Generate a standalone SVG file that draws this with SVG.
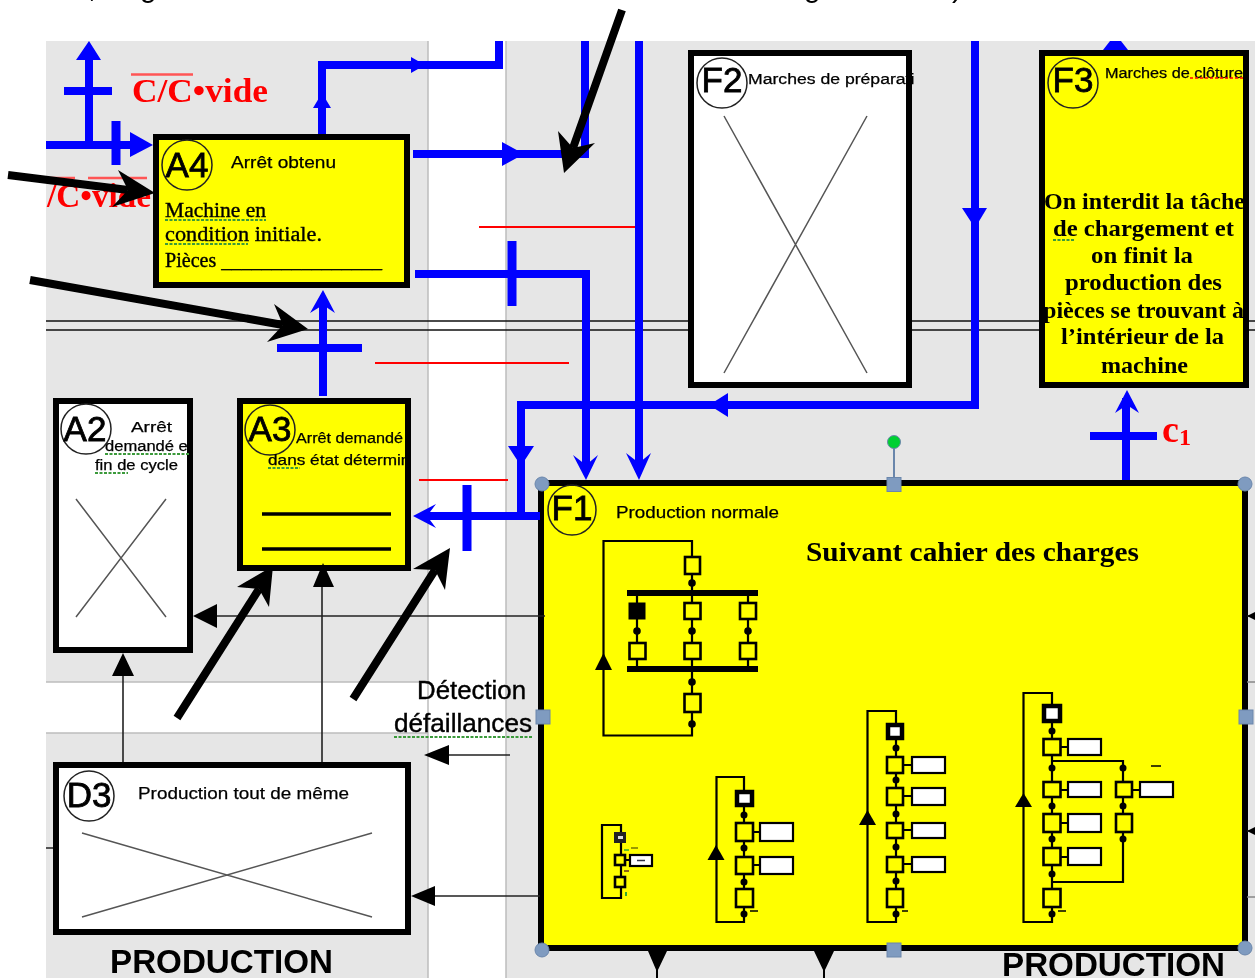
<svg xmlns="http://www.w3.org/2000/svg" width="1255" height="978" viewBox="0 0 1255 978">
<style>
text{paint-order:stroke}
.sans{font-family:"Liberation Sans",Arial,sans-serif;fill:#000}
.serif{font-family:"Liberation Serif","Times New Roman",serif;fill:#000}
.tag{font-family:"Liberation Sans",Arial,sans-serif;font-size:35px;text-anchor:middle;fill:#000;stroke:#000;stroke-width:.8}
.small{font-family:"Liberation Sans",Arial,sans-serif;font-size:14px;fill:#000;stroke:#000;stroke-width:.25}
.box{stroke:#000;stroke-width:6}
.y{fill:#ff0}
.w{fill:#fff}
.ring{fill:none;stroke:#222;stroke-width:1.5}
.cross{stroke:#555;stroke-width:1.5;fill:none}
.blue{stroke:#00f;stroke-width:8;fill:none}
.tick{stroke:#00f;stroke-width:9;fill:none}
.bh{fill:#00f}
.thin{stroke:#222;stroke-width:1.6;fill:none}
.kh{fill:#000}
.fat{stroke:#000;stroke-width:8;fill:none}
.red{stroke:#f00;stroke-width:1.8}
.sq{stroke:#3a9a3a;stroke-width:2;stroke-dasharray:3 1.5;fill:none}
.gl{stroke:#bdbdbd;stroke-width:1.5;fill:none}
.st{fill:#ff0;stroke:#000;stroke-width:2.6}
.ini{fill:#fff;stroke:#000;stroke-width:4.5}
.ac{fill:#fff;stroke:#000;stroke-width:2.2}
.gl2{stroke:#000;stroke-width:2.2;fill:none}
.bar{stroke:#000;stroke-width:6;fill:none}
.h{fill:#7f9bc0;stroke:#6a86ab;stroke-width:1}
</style>
<defs>
<filter id="soft" x="0" y="0" width="100%" height="100%"><feGaussianBlur stdDeviation="0.6"/></filter>
<clipPath id="cA2"><rect x="50" y="395" width="141" height="260"/></clipPath>
<clipPath id="cA3"><rect x="240" y="395" width="166" height="180"/></clipPath>
<clipPath id="cF2"><rect x="690" y="50" width="225" height="340"/></clipPath>
</defs>
<g filter="url(#soft)">
<g id="background">
<rect width="1255" height="978" fill="#fff"/>
<rect x="46" y="41" width="382" height="641" fill="#e6e6e6"/>
<rect x="46" y="733" width="382" height="245" fill="#e6e6e6"/>
<rect x="506" y="41" width="749" height="937" fill="#e6e6e6"/>
<path class="gl" d="M428 41V978M506 41V978M46 682H428M46 733H428"/>
<path d="M46 321H1255M46 330H1255" stroke="#111" stroke-width="1.5" fill="none"/>
<path class="red" d="M479 227H638M375 363H569M419 480H508"/>
<text class="sans" font-size="30" x="88" y="-3">,</text>
<text class="sans" font-size="30" x="140" y="-3">g</text>
<text class="sans" font-size="30" x="804" y="-3">g</text>
<text class="sans" font-size="30" x="952" y="-3">)</text>
<text class="serif" font-size="34" font-weight="bold" x="132" y="102" textLength="136" lengthAdjust="spacingAndGlyphs" style="fill:#f00">C/C•vide</text>
<path d="M131 74.500H193M46 178H75M88 178H147" stroke="#f55" stroke-width="2.500" fill="none"/>
<text class="serif" font-size="34" font-weight="bold" x="47" y="207" textLength="104" lengthAdjust="spacingAndGlyphs" style="fill:#f00">/C•vide</text>
<text class="serif" font-size="38" font-weight="bold" x="1162" y="442" style="fill:#f00">c<tspan font-size="24" dy="3">1</tspan></text>
<text class="sans" font-size="33" font-weight="bold" x="110" y="973" textLength="223" lengthAdjust="spacingAndGlyphs">PRODUCTION</text>
<text class="sans" font-size="33" font-weight="bold" x="1002" y="976" textLength="223" lengthAdjust="spacingAndGlyphs">PRODUCTION</text>
<text class="sans" font-size="25" x="417" y="699" textLength="109" lengthAdjust="spacingAndGlyphs" style="stroke:#000;stroke-width:.4">Détection</text>
<text class="sans" font-size="25" x="394" y="732" textLength="138" lengthAdjust="spacingAndGlyphs" style="stroke:#000;stroke-width:.4">défaillances</text>
<path class="sq" d="M394 737H532"/>
</g>
<g id="node-A4">
<rect class="box y" x="156" y="137" width="251" height="148"/>
<ellipse class="ring" cx="187" cy="165" rx="25" ry="25"/>
<text class="tag" x="187" y="177">A4</text>
<text class="small" font-size="17" style="font-size:17px" x="231" y="168" textLength="105" lengthAdjust="spacingAndGlyphs">Arrêt obtenu</text>
<g style="stroke:#000;stroke-width:.35">
<text class="serif" font-size="20" x="165" y="217" textLength="101" lengthAdjust="spacingAndGlyphs">Machine en</text>
<text class="serif" font-size="20" x="165" y="241" textLength="157" lengthAdjust="spacingAndGlyphs">condition initiale.</text>
<text class="serif" font-size="20" x="165" y="267" textLength="217" lengthAdjust="spacingAndGlyphs">Pièces ________________</text>
</g>
<path class="sq" d="M165 220H266M165 244H248"/>
</g>
<g id="node-A2">
<rect class="box w" x="56" y="401" width="134" height="249"/>
<ellipse class="ring" cx="86" cy="429" rx="25" ry="25"/>
<text class="tag" x="85" y="441">A2</text>
<g clip-path="url(#cA2)">
<path class="sq" d="M105 454H190M95 473H128"/>
<text class="small" x="131" y="432" textLength="41" lengthAdjust="spacingAndGlyphs">Arrêt</text>
<text class="small" x="105" y="451" textLength="92" lengthAdjust="spacingAndGlyphs">demandé en</text>
<text class="small" x="95" y="470" textLength="83" lengthAdjust="spacingAndGlyphs">fin de cycle</text>
</g>
<path class="cross" d="M76 499L166 617M166 499L76 617"/>
</g>
<g id="node-A3">
<rect class="box y" x="240" y="401" width="168" height="167"/>
<ellipse class="ring" cx="270" cy="430" rx="25" ry="25"/>
<text class="tag" x="270" y="441">A3</text>
<g clip-path="url(#cA3)">
<path class="sq" d="M268 468H300"/>
<text class="small" x="296" y="443" textLength="107" lengthAdjust="spacingAndGlyphs">Arrêt demandé</text>
<text class="small" x="268" y="465" textLength="152" lengthAdjust="spacingAndGlyphs">dans état déterminé</text>
</g>
<path d="M262 514H391M262 549H391" stroke="#000" stroke-width="3.500" fill="none"/>
</g>
<g id="node-D3">
<rect class="box w" x="56" y="765" width="352" height="167"/>
<ellipse class="ring" cx="89" cy="796" rx="25" ry="25"/>
<text class="tag" x="89" y="807">D3</text>
<text class="small" style="font-size:17px" x="138" y="799" textLength="211" lengthAdjust="spacingAndGlyphs">Production tout de même</text>
<path class="cross" d="M82 833L372 917M82 917L372 833"/>
</g>
<g id="node-F2">
<rect class="box w" x="691" y="53" width="218" height="332"/>
<ellipse class="ring" cx="722" cy="83" rx="25" ry="25"/>
<text class="tag" x="722" y="92">F2</text>
<text class="small" clip-path="url(#cF2)" x="748" y="84" textLength="186" lengthAdjust="spacingAndGlyphs">Marches de préparation</text>
<path class="cross" d="M724 116L867 373M867 116L724 373"/>
</g>
<g id="node-F3">
<rect class="box y" x="1042" y="53" width="204" height="332"/>
<ellipse class="ring" cx="1073" cy="83" rx="25" ry="25"/>
<text class="tag" x="1073" y="92">F3</text>
<text class="small" x="1105" y="78" textLength="138" lengthAdjust="spacingAndGlyphs">Marches de clôture</text>
<path d="M1190 78H1243" stroke="#f00" stroke-width="1.500" stroke-dasharray="3 2"/>
<g font-size="23" font-weight="bold">
<text class="serif" x="1044" y="209" textLength="201" lengthAdjust="spacingAndGlyphs">On interdit la tâche</text>
<text class="serif" x="1053" y="236" textLength="181" lengthAdjust="spacingAndGlyphs">de chargement et</text>
<text class="serif" x="1091" y="263" textLength="102" lengthAdjust="spacingAndGlyphs">on finit la</text>
<text class="serif" x="1065" y="290" textLength="157" lengthAdjust="spacingAndGlyphs">production des</text>
<text class="serif" x="1043" y="318" textLength="201" lengthAdjust="spacingAndGlyphs">pièces se trouvant à</text>
<text class="serif" x="1061" y="344" textLength="163" lengthAdjust="spacingAndGlyphs">l’intérieur de la</text>
<text class="serif" x="1101" y="373" textLength="87" lengthAdjust="spacingAndGlyphs">machine</text>
</g>
<path class="sq" d="M1053 240H1074"/>
</g>
<g id="node-F1">
<rect class="box y" x="541" y="483" width="704" height="465"/>
<ellipse class="ring" cx="572" cy="510" rx="24" ry="25"/>
<text class="tag" x="572" y="520">F1</text>
<text class="small" style="font-size:17px" x="616" y="518" textLength="163" lengthAdjust="spacingAndGlyphs">Production normale</text>
<text class="serif" font-size="27" font-weight="bold" x="806" y="561" textLength="333" lengthAdjust="spacingAndGlyphs">Suivant cahier des charges</text>
<g id="grafcet-1">
<path class="gl2" d="M692 541H603.500V735.500H692ZM692 541V735M637 593V668M748 593V668"/>
<path class="kh" d="M603.500 653L612 670H595Z"/>
<rect class="st" x="685" y="557" width="15" height="17" stroke-width="3.500"/>
<path class="bar" d="M627 593H758M627 669H758"/>
<rect x="629" y="603" width="16" height="16" fill="#000" stroke="#000"/>
<rect class="st" x="684.500" y="603" width="16" height="16"/><rect class="st" x="740" y="603" width="16" height="16"/>
<rect class="st" x="629.500" y="643" width="16" height="16"/><rect class="st" x="684.500" y="643" width="16" height="16"/><rect class="st" x="740" y="643" width="16" height="16"/>
<rect class="st" x="684.500" y="694" width="16" height="18"/>
<g fill="#000"><circle cx="692" cy="583" r="3.800"/><circle cx="637" cy="631" r="3.800"/><circle cx="692" cy="631" r="3.800"/><circle cx="748" cy="631" r="3.800"/><circle cx="692" cy="682" r="3.800"/><circle cx="692" cy="724" r="3.800"/></g>
</g>
<g id="grafcet-2">
<path class="gl2" d="M621 825H602V898H621ZM621 825V898M626 860H630" stroke-width="2"/>
<rect x="614" y="832" width="12" height="11" fill="#222"/><rect x="618" y="836" width="5" height="3" fill="#ddd"/>
<rect class="st" x="615" y="855" width="10" height="10"/><rect class="st" x="615" y="877" width="10" height="10"/>
<rect class="ac" x="630" y="855" width="22" height="11"/>
<path d="M637 860.500H645" stroke="#334" stroke-width="1.500"/>
<path d="M624 850H629" stroke="#3a3" stroke-width="1.500"/><path d="M631 848H638" stroke="#990" stroke-width="2"/><path d="M624 871H629" stroke="#632" stroke-width="1.500"/><path d="M626 892V896" stroke="#3a3" stroke-width="2"/>
</g>
<g id="grafcet-3">
<path class="gl2" d="M744 777H716.500V922H744ZM744 777V922M753 832H760M753 865H760" stroke-width="2.400"/>
<path class="kh" d="M716 845L724.500 860H707.500Z"/>
<rect class="ini" x="737" y="792" width="15" height="13"/>
<rect class="st" x="736" y="823" width="17" height="18"/><rect class="st" x="736" y="857" width="17" height="17"/><rect class="st" x="736" y="889" width="17" height="18"/>
<rect class="ac" x="760" y="823" width="33" height="18"/><rect class="ac" x="760" y="857" width="33" height="17"/>
<g fill="#000"><circle cx="744" cy="815" r="3.500"/><circle cx="744" cy="848" r="3.500"/><circle cx="744" cy="882" r="3.500"/><circle cx="744" cy="914" r="3.500"/></g>
<path d="M750 911H758" stroke="#000" stroke-width="1.500"/>
</g>
<g id="grafcet-4">
<path class="gl2" d="M896 711H867.500V922H896ZM896 711V922M903 765H912M903 796H912M903 830H912M903 864H912"/>
<path class="kh" d="M867.500 810L876 825H859Z"/>
<rect class="ini" x="888" y="725" width="14" height="13"/>
<rect class="st" x="887" y="757" width="16" height="16"/><rect class="st" x="887" y="788" width="16" height="17"/><rect class="st" x="887" y="823" width="16" height="15"/><rect class="st" x="887" y="857" width="16" height="15"/><rect class="st" x="887" y="889" width="16" height="18"/>
<rect class="ac" x="912" y="757" width="33" height="16"/><rect class="ac" x="912" y="788" width="33" height="17"/><rect class="ac" x="912" y="823" width="33" height="15"/><rect class="ac" x="912" y="857" width="33" height="15"/>
<g fill="#000"><circle cx="896" cy="748" r="3.500"/><circle cx="896" cy="780" r="3.500"/><circle cx="896" cy="814" r="3.500"/><circle cx="896" cy="847" r="3.500"/><circle cx="896" cy="881" r="3.500"/><circle cx="896" cy="914" r="3.500"/></g>
<path d="M902 911H908" stroke="#000" stroke-width="1.500"/>
</g>
<g id="grafcet-5">
<path class="gl2" d="M1052 693H1023.500V922H1052ZM1052 693V922M1052 761H1123V882H1052M1061 747H1068M1061 790H1068M1061 823H1068M1061 857H1068M1132 790H1140"/>
<path class="kh" d="M1023.500 793L1032 807H1015Z"/>
<rect class="ini" x="1044" y="706" width="16" height="15"/>
<rect class="st" x="1043.500" y="739" width="17" height="16"/><rect class="st" x="1043.500" y="782" width="17" height="15"/><rect class="st" x="1043.500" y="814" width="17" height="18"/><rect class="st" x="1043.500" y="848" width="17" height="17"/><rect class="st" x="1043.500" y="889" width="17" height="18"/>
<rect class="st" x="1116" y="782" width="16" height="15"/><rect class="st" x="1116" y="814" width="16" height="18"/>
<rect class="ac" x="1068" y="739" width="33" height="16"/><rect class="ac" x="1068" y="782" width="33" height="15"/><rect class="ac" x="1068" y="814" width="33" height="18"/><rect class="ac" x="1068" y="848" width="33" height="17"/><rect class="ac" x="1140" y="782" width="33" height="15"/>
<g fill="#000"><circle cx="1052" cy="731" r="3.500"/><circle cx="1052" cy="768" r="3.500"/><circle cx="1123" cy="768" r="3.500"/><circle cx="1052" cy="806" r="3.500"/><circle cx="1123" cy="806" r="3.500"/><circle cx="1052" cy="839" r="3.500"/><circle cx="1123" cy="839" r="3.500"/><circle cx="1052" cy="874" r="3.500"/><circle cx="1052" cy="914" r="3.500"/></g>
<path d="M1151 766H1161M1058 911H1066" stroke="#000" stroke-width="1.500"/>
</g>
<g id="selection-handles">
<path d="M894 442V484" stroke="#6a86ab" stroke-width="2"/>
<circle cx="894" cy="442" r="6.500" fill="#00d030" stroke="#6a86ab"/>
<rect class="h" x="887" y="477.500" width="14" height="14"/><rect class="h" x="536" y="710" width="14" height="14"/><rect class="h" x="1239" y="710" width="14" height="14"/><rect class="h" x="887" y="943" width="14" height="14"/>
<circle class="h" cx="542" cy="484" r="7"/><circle class="h" cx="1245" cy="484" r="7"/><circle class="h" cx="542" cy="950" r="7"/><circle class="h" cx="1245" cy="948" r="7"/>
</g>
</g>
<g id="connectors">
<path class="blue" d="M89 50V145M46 145H135M322 134V65H499V41M413 154H589M585 41V158M639 41V470M415 274H586V470M323 396V300M521 516V405H975V41M425 516H540M1126 480V398"/>
<path class="blue" d="M64 91H112M277 348H362M1090 436H1157" stroke-width="9"/>
<path class="tick" d="M116 121V165M512 241V306M467 485V551"/>
<path class="bh" d="M89 41L101 60H76ZM153 145L130 132V157ZM331 108H313L322 93ZM425 65L411 57V73ZM524 154L502 142V166ZM639 480L626 453L639 463L651 453ZM586 480L573 455L586 465L598 455ZM323 290L335 313L323 305L310 313ZM975 228L962 208H987ZM709 405L728 393V417ZM521 466L508 446H534ZM413 516L436 504L427 516L436 528ZM1127 390L1139 413L1127 405L1115 413ZM1110 41H1121L1128 50H1103Z"/>
<path class="thin" d="M545 616H205M123 762V665M322 762V575M510 755H440M540 896H425M46 848H53M1247 616H1255M1247 831H1255"/>
<path d="M1247 682H1255M1247 897H1255" stroke="#888" stroke-width="1.500"/>
<path class="kh" d="M193 616L217 604V628ZM123 653L134 676H112ZM323 563L334 587H313ZM424 755L449 745V765ZM411 896L435 886V906ZM1247 616L1255 612V620ZM1247 831L1255 827V835ZM648 951H667L657 972ZM814 951H834L824 972Z"/>
<path d="M657 965V978M824 965V978" stroke="#000" stroke-width="2"/>
<g id="pointers">
<path class="fat" d="M8 175L128 190M30 280L283 325M622 10L573 148M177 718L259 589M353 699L435 570"/>
<path class="kh" d="M155 193L118 170L128 190L112 207ZM308 329L274 304L283 325L267 342ZM564 173L558 131L573 148L595 143ZM273 566L237 587L259 589L269 607ZM450 548L413 569L435 570L445 590Z"/>
</g>
</g>
</g>
</svg>
